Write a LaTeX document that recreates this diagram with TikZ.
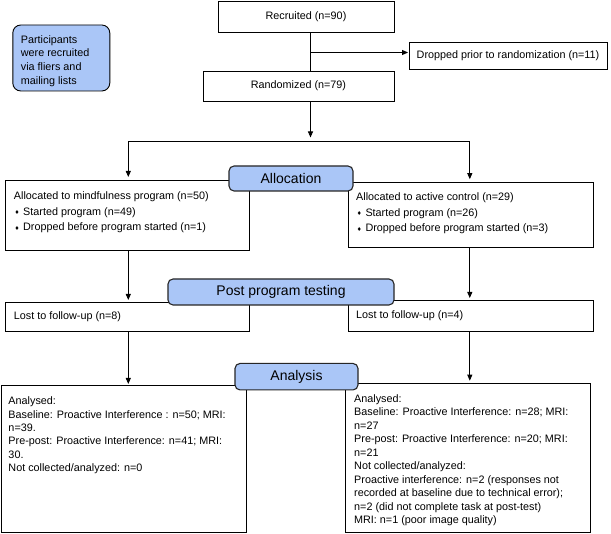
\documentclass[tikz,border=0pt]{standalone}
\usepackage{fontspec}
\setmainfont{Liberation Sans}
\newfontfamily\mysymfont{DejaVu Sans}
\usetikzlibrary{arrows.meta}
\definecolor{lblue}{RGB}{170,198,247}
\newcommand{\mybul}{\makebox[9.3pt][l]{\hspace{0.6pt}\raisebox{0.6pt}{\mysymfont\fontsize{5.5}{6}\selectfont ♦}}}
\begin{document}
\begin{tikzpicture}[x=1pt,y=-1pt,
  box/.style={draw=black,line width=0.9pt,inner sep=0pt,font=\fontsize{10.8}{13.4}\selectfont},
  lbl/.style={draw=black!85,line width=1.1pt,fill=lblue,rounded corners=5pt,inner sep=0pt,font=\fontsize{14}{16}\selectfont},
  txt/.style={inner sep=0pt,align=left,font=\fontsize{10.8}{13.4}\selectfont},
  arr/.style={line width=0.9pt,-{Triangle[length=6pt,width=5pt]},shorten >=2pt},
  ln/.style={line width=0.9pt}]
\fill[white] (0,0) rectangle (611,534);
\useasboundingbox (0,0) rectangle (611,534);

% top boxes
\node[box,minimum width=176pt,minimum height=31pt] (rec) at (306,16.5) {Recruited (n=90)};
\node[box,minimum width=198pt,minimum height=26.5pt] (drop) at (508,56) {Dropped prior to randomization (n=11)};
\node[box,minimum width=191pt,minimum height=30pt] (rand) at (298.5,86) {Randomized (n=79)};
\node[box,fill=lblue,rounded corners=8pt,minimum width=97pt,minimum height=66pt] (part) at (61.3,58) {};
\node[txt,anchor=north west,font=\fontsize{10.8}{13.7}\selectfont] (partt) at (20.7,35) {Participants\\were recruited\\via fliers and\\mailing lists};

% allocation boxes
\node[box,anchor=north west,minimum width=244pt,minimum height=70pt] (mind) at (5,180) {};
\node[txt,anchor=north west,font=\fontsize{10.8}{15.5}\selectfont] (mindt) at (13.7,191.7) {Allocated to mindfulness program (n=50)\\\mybul Started program (n=49)\\\mybul Dropped before program started (n=1)};
\node[box,anchor=north west,minimum width=245.3pt,minimum height=65.3pt] (act) at (347.7,182.2) {};
\node[txt,anchor=north west,font=\fontsize{10.8}{15.5}\selectfont] (actt) at (356,192.7) {Allocated to active control (n=29)\\\mybul Started program (n=26)\\\mybul Dropped before program started (n=3)};

% lost boxes
\node[box,anchor=north west,minimum width=244pt,minimum height=29pt] (lostl) at (5,302) {};
\node[txt,anchor=west] (lostlt) at (13.7,316.7) {Lost to follow-up (n=8)};
\node[box,anchor=north west,minimum width=245.3pt,minimum height=31pt] (lostr) at (347.7,300) {};
\node[txt,anchor=west] (lostrt) at (356,315.5) {Lost to follow-up (n=4)};

% analysis boxes
\node[box,anchor=north west,minimum width=245pt,minimum height=146.7pt] (anl) at (1,385) {};
\node[txt,anchor=north west] (anlt) at (8.3,396.7) {Analysed:\\Baseline: Proactive Interference : n=50; MRI:\\n=39.\\Pre-post: Proactive Interference: n=41; MRI:\\30.\\Not collected/analyzed: n=0};
\node[box,anchor=north west,minimum width=245pt,minimum height=149.8pt] (anr) at (345,382.7) {};
\node[txt,anchor=north west,font=\fontsize{10.8}{13.5}\selectfont] (anrt) at (354,394.3) {Analysed:\\Baseline: Proactive Interference: n=28; MRI:\\n=27\\Pre-post: Proactive Interference: n=20; MRI:\\n=21\\Not collected/analyzed:\\Proactive interference: n=2 (responses not\\recorded at baseline due to technical error);\\n=2 (did not complete task at post-test)\\MRI: n=1 (poor image quality)};

% connectors
\coordinate (cx) at (310.5,0);
\coordinate (cl) at (128.3,0);
\coordinate (cr) at (469.8,0);
\coordinate (br) at (310.5,52.5);
\coordinate (sp) at (310.5,141.5);
\draw[ln] (rec.south -| cx) -- (rand.north -| cx);
\draw[arr,shorten >=0.5pt] (br) -- (drop.west |- br);
\draw[arr,shorten >=4pt] (rand.south -| cx) -- (sp);
\draw[ln] (sp -| cl) -- (sp -| cr);
\draw[arr,shorten >=3pt] (sp -| cl) -- (mind.north -| cl);
\draw[arr,shorten >=3pt] (sp -| cr) -- (act.north -| cr);
\draw[arr] (mind.south -| cl) -- (lostl.north -| cl);
\draw[arr] (act.south -| cr) -- (lostr.north -| cr);
\draw[arr,shorten >=1pt] (lostl.south -| cl) -- (anl.north -| cl);
\draw[arr] (lostr.south -| cr) -- (anr.north -| cr);

% stage labels
\node[lbl,minimum width=124pt,minimum height=25pt] (alloc) at (291,178.5) {Allocation};
\node[lbl,minimum width=226pt,minimum height=26pt] (post) at (281,292) {Post program testing};
\node[lbl,minimum width=123pt,minimum height=26.5pt] (anal) at (296.5,376.7) {Analysis};
\end{tikzpicture}
\end{document}
